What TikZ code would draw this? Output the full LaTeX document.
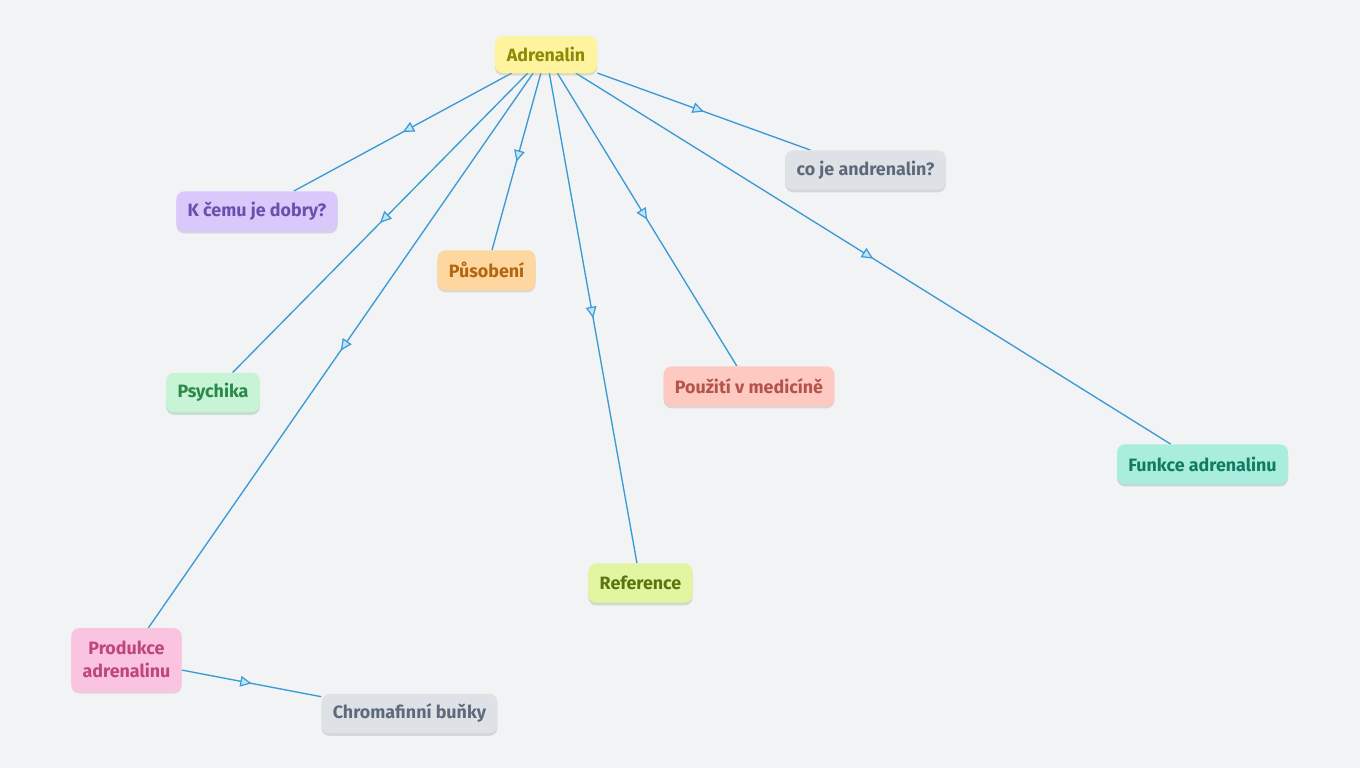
\documentclass[tikz,border=0pt]{standalone}
\usepackage{fontspec}
\setmainfont{Fira Sans}
\usetikzlibrary{arrows.meta,decorations.markings,shadows,backgrounds}
\definecolor{bg}{HTML}{F1F3F5}
\definecolor{linec}{HTML}{3A9AD6}
\definecolor{arrf}{HTML}{BFE3F7}
\tikzset{
  box/.style={rounded corners=6pt, minimum height=29.5pt, inner xsep=8.5pt, inner ysep=3pt,
    font=\fontsize{13.4}{17.5}\selectfont\bfseries, align=center},
  colbox/.style n args={2}{box, fill=#1, text=#2,
    drop shadow={shadow xshift=0pt, shadow yshift=-2pt, opacity=0.3, fill=#2!70}},
  conn/.style={draw=linec, line width=1pt,
    postaction={decorate, decoration={markings, mark=at position 0.5 with
      {\arrow{Triangle[length=8.5pt, width=8pt, fill=arrf, line width=0.9pt, color=linec]}}}}}
}
\definecolor{yf}{HTML}{FEF39E}\definecolor{yt}{HTML}{8E8A05}
\definecolor{pf}{HTML}{D9C9FB}\definecolor{pt}{HTML}{6A4FAE}
\definecolor{of}{HTML}{FED7A0}\definecolor{ot}{HTML}{B4650F}
\definecolor{gf}{HTML}{C6F4D4}\definecolor{gt}{HTML}{2B8848}
\definecolor{kf}{HTML}{FAC3E0}\definecolor{kt}{HTML}{BE467C}
\definecolor{sf}{HTML}{DEE2E6}\definecolor{st}{HTML}{5E6A7A}
\definecolor{lf}{HTML}{E2F6A1}\definecolor{lt}{HTML}{5A7410}
\definecolor{rf}{HTML}{FEC9C1}\definecolor{rt}{HTML}{B2544A}
\definecolor{tf}{HTML}{A9EEDC}\definecolor{tt}{HTML}{0F7C63}
\begin{document}
\begin{tikzpicture}[x=0.75pt,y=-0.75pt]
\useasboundingbox (0,0) rectangle (1360,768);
\begin{scope}[on background layer]
\fill[bg] (0,0) rectangle (1360,768);
\end{scope}
\node[colbox={yf}{yt}, minimum height=27.5pt, inner xsep=9pt] (adr) at (546,54.5) {Adrenalin};
\node[colbox={pf}{pt}] (kcemu) at (257,211) {K čemu je dobry?};
\node[colbox={of}{ot}] (pus) at (486.5,270) {Působení};
\node[colbox={gf}{gt}] (psy) at (213,392.5) {Psychika};
\node[colbox={kf}{kt}, minimum height=47pt] (prod) at (126.5,659.5) {Produkce\\adrenalinu};
\node[colbox={sf}{st}] (chrom) at (409.5,713.5) {Chromafinní buňky};
\node[colbox={lf}{lt}] (ref) at (640.5,583) {Reference};
\node[colbox={rf}{rt}] (pouz) at (749,386) {Použití v medicíně};
\node[colbox={sf}{st}] (coje) at (865.5,170) {co je andrenalin?};
\node[colbox={tf}{tt}] (funk) at (1202.5,464) {Funkce adrenalinu};
\begin{scope}[on background layer]
\draw[conn] (adr) -- (kcemu);
\draw[conn] (adr) -- (pus);
\draw[conn] (adr) -- (psy);
\draw[conn] (adr) -- (prod);
\draw[conn] (adr) -- (ref);
\draw[conn] (adr) -- (pouz);
\draw[conn] (adr) -- (coje);
\draw[conn] (adr) -- (funk);
\draw[conn] (prod) -- (chrom);
\end{scope}
\end{tikzpicture}
\end{document}
